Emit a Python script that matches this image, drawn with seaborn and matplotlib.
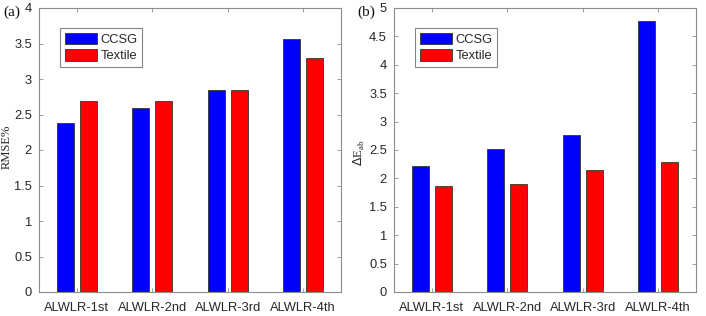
import matplotlib
matplotlib.use("Agg")
import matplotlib.pyplot as plt
import seaborn as sns
import pandas as pd

categories = ["ALWLR-1st", "ALWLR-2nd", "ALWLR-3rd", "ALWLR-4th"]
series_names = ["CCSG", "Textile"]
rmse_ccsg = [2.38, 2.59, 2.84, 3.56]
rmse_textile = [2.69, 2.69, 2.84, 3.29]
de_ccsg = [2.22, 2.52, 2.77, 4.77]
de_textile = [1.86, 1.91, 2.14, 2.29]

def long_df(a, b):
    rows = []
    for c, v in zip(categories, a):
        rows.append({"cat": c, "series": series_names[0], "val": v})
    for c, v in zip(categories, b):
        rows.append({"cat": c, "series": series_names[1], "val": v})
    return pd.DataFrame(rows)

sns.set_style("white")
plt.rcParams['font.family'] = ['Liberation Sans', 'DejaVu Sans']

fig = plt.figure(figsize=(7.06, 3.16), dpi=100)
ax1 = fig.add_axes([39/706, 24/316, 302/706, 284/316])
ax2 = fig.add_axes([394/706, 24/316, 302/706, 284/316])

palette = {"CCSG": "#0000ff", "Textile": "#ff0000"}
edge = "#333333"
tick_col = "#262626"
box_col = "#8c8c8c"

for ax, a, b, ymax, yt in [
    (ax1, rmse_ccsg, rmse_textile, 4, [0, 0.5, 1, 1.5, 2, 2.5, 3, 3.5, 4]),
    (ax2, de_ccsg, de_textile, 5, [0, 0.5, 1, 1.5, 2, 2.5, 3, 3.5, 4, 4.5, 5]),
]:
    df = long_df(a, b)
    sns.barplot(data=df, x="cat", y="val", hue="series", order=categories,
                hue_order=series_names, palette=palette, width=0.6, gap=0.25,
                edgecolor=edge, linewidth=0.6, saturation=1, errorbar=None, ax=ax)
    ax.set_xlim(-0.5, 3.5)
    ax.set_ylim(0, ymax)
    ax.set_yticks(yt)
    ax.set_yticklabels([f"{v:g}" for v in yt])
    ax.set_xlabel("")
    ax.set_ylabel("")
    for s in ax.spines.values():
        s.set_visible(True)
        s.set_color(box_col)
        s.set_linewidth(0.8)
    ax.tick_params(axis="both", direction="in", length=3, width=0.6,
                   color=box_col, labelcolor=tick_col, labelsize=9.3,
                   top=True, right=True, bottom=True, left=True)
    ax.tick_params(axis="x", pad=7)
    ax.tick_params(axis="y", pad=5)
    leg = ax.legend(loc="upper left", bbox_to_anchor=(21/302, 1 - 20/284),
                    frameon=True, fancybox=False, fontsize=9.3,
                    handlelength=2.5, handleheight=1.0, handletextpad=0.3,
                    borderpad=0.35, labelspacing=0.25, borderaxespad=0)
    leg.get_frame().set_edgecolor("#666666")
    leg.get_frame().set_linewidth(0.8)
    for t in leg.get_texts():
        t.set_color(tick_col)

ax1.set_ylabel("RMSE%", family="Liberation Serif", fontsize=9, color=tick_col)
ax1.yaxis.set_label_coords(-0.088, 0.51)
ax2.set_ylabel(r"$\Delta$E$_{\mathregular{ab}}$", family="Liberation Serif", fontsize=9,
               color=tick_col)
ax2.yaxis.set_label_coords(-0.09, 0.49)

fig.text(3/706, 1 - 16/316, "(a)", family="Liberation Serif", fontsize=11, color="#111111")
fig.text(357/706, 1 - 16/316, "(b)", family="Liberation Serif", fontsize=11, color="#111111")

fig.savefig("out.png", dpi=100)
